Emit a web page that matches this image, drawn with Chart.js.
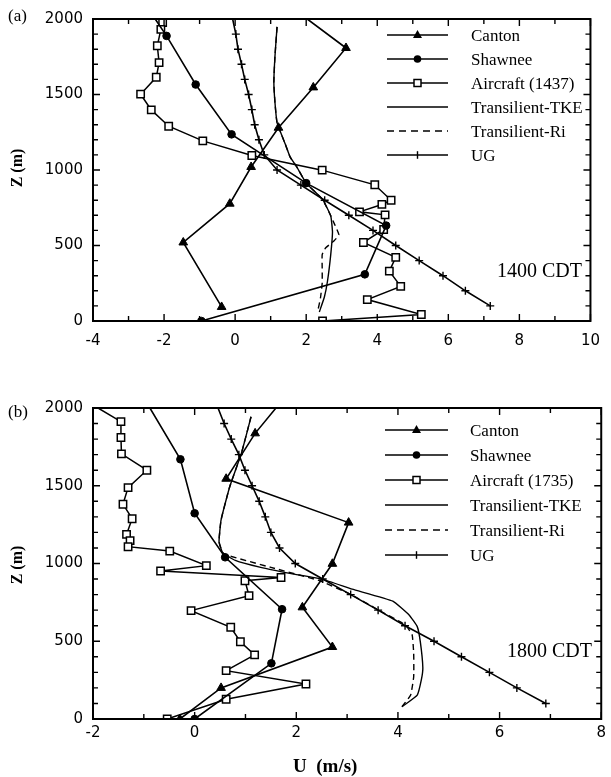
<!DOCTYPE html>
<html lang="en">
<head>
<meta charset="UTF-8" />
<title>Wind speed profiles</title>
<script src="https://cdn.jsdelivr.net/npm/chart.js"></script>
<style>
  body {
    margin: 0;
    background: #fff;
    width: 611px;
    height: 777px;
    position: relative;
    overflow: hidden;
    font-family: 'Liberation Serif', 'Times New Roman', serif;
    color: #000;
  }
  .panel { position: absolute; left: 0; }
  #panelA { top: 0; }
  #panelB { top: 388px; }
  .note {
    position: absolute;
    line-height: 1;
    white-space: pre;
    transform: translateY(-50%);
  }
  .tag { font-size: 17px; left: 8px; }
  .stamp { font-size: 20px; }
  .ztitle {
    position: absolute;
    font-size: 16px;
    font-weight: bold;
    line-height: 1;
    white-space: pre;
    transform: translate(-50%, -50%) rotate(-90deg);
  }
  .utitle { font-size: 19px; font-weight: bold; }
</style>
</head>
<body>

<div class="panel" id="panelA"><canvas id="chartA" width="611" height="388"></canvas></div>
<div class="panel" id="panelB"><canvas id="chartB" width="611" height="389"></canvas></div>

<div class="note tag" style="top:15px">(a)</div>
<div class="note tag" style="top:411px">(b)</div>
<div class="ztitle" style="left:17px; top:168px">Z (m)</div>
<div class="ztitle" style="left:17px; top:565px">Z (m)</div>
<div class="note utitle" style="left:293px; top:765px">U  (m/s)</div>
<div class="note stamp" style="left:497px; top:270px">1400 CDT</div>
<div class="note stamp" style="left:507px; top:650px">1800 CDT</div>

<script>
  // ---- 1400 CDT profiles (U in m/s, Z in m) ----
  const cantonA_U = [2.03, 3.12, 2.2, 1.22, 0.45, -0.15, -1.46, -0.38];
  const cantonA_Z = [2000, 1808, 1547, 1280, 1020, 777, 520, 93];

  const shawneeA_U = [-2.25, -1.93, -1.11, -0.1, 2.0, 4.25, 3.65, -0.95];
  const shawneeA_Z = [2000, 1888, 1566, 1236, 913, 632, 309, 0];

  const aircraftA_U = [-2.04, -2.09, -2.19, -2.14, -2.22, -2.66, -2.36, -1.87, -0.91, 0.47, 2.45, 3.93,
                       4.39, 4.13, 3.5, 4.22, 4.18, 3.61, 4.52, 4.34, 4.66, 3.72, 5.24, 2.46];
  const aircraftA_Z = [1976, 1931, 1823, 1711, 1614, 1502, 1398, 1290, 1193, 1096, 999, 902,
                       800, 772, 723, 703, 606, 520, 421, 330, 229, 142, 43, 0];

  const tkeA_U = [1.18, 1.12, 1.09, 1.12, 1.18, 1.41, 1.55, 1.73, 2.0, 2.46, 2.69, 2.74, 2.69, 2.6, 2.51, 2.37];
  const tkeA_Z = [1948, 1750, 1581, 1450, 1314, 1172, 1085, 1022, 913, 805, 697, 589, 438, 265, 157, 60];

  const riA_U = [1.18, 1.12, 1.09, 1.12, 1.18, 1.41, 1.55, 1.73, 2.0, 2.46, 2.69, 2.8, 2.92, 2.78, 2.55, 2.45, 2.45, 2.45, 2.4, 2.33];
  const riA_Z = [1948, 1750, 1581, 1450, 1314, 1172, 1085, 1022, 913, 805, 697, 640, 570, 530, 485, 440, 350, 250, 150, 71];

  const ugA_U = [7.18, 6.48, 5.85, 5.18, 4.52, 3.88, 3.2, 2.52, 1.85, 1.18,
                 0.82, 0.67, 0.55, 0.47, 0.38, 0.27, 0.18, 0.08, 0.02, -0.07];
  const ugA_Z = [100, 200, 300, 400, 500, 600, 700, 800, 900, 1000,
                 1100, 1200, 1300, 1400, 1500, 1600, 1700, 1800, 1900, 2000];

  // ---- 1800 CDT profiles ----
  const cantonB_U = [1.6, 1.19, 0.62, 3.03, 2.71, 2.12, 2.71, 0.52, -0.29];
  const cantonB_Z = [2000, 1837, 1545, 1263, 998, 718, 463, 200, 0];

  const shawneeB_U = [-0.88, -0.28, 0.0, 0.6, 1.72, 1.51, 0.0];
  const shawneeB_Z = [2000, 1670, 1323, 1040, 706, 358, 0];

  const aircraftB_U = [-1.9, -1.45, -1.45, -1.44, -0.94, -1.31, -1.41, -1.23, -1.34, -1.27, -1.31, -0.49, 0.23,
                       -0.67, 1.7, 0.99, 1.07, -0.07, 0.71, 0.9, 1.18, 0.62, 2.19, 0.62, -0.54];
  const aircraftB_Z = [2000, 1912, 1810, 1705, 1600, 1488, 1381, 1288, 1187, 1147, 1108, 1080, 986,
                       952, 910, 889, 793, 697, 590, 497, 412, 311, 225, 127, 0];

  const tkeB_U = [1.11, 0.92, 0.69, 0.52, 0.48, 0.55, 0.8, 1.3, 1.9, 2.52, 3.1, 3.9, 4.22, 4.38, 4.44, 4.49, 4.46, 4.38, 4.08];
  const tkeB_Z = [1944, 1709, 1494, 1280, 1140, 1070, 1020, 975, 935, 898, 835, 758, 669, 594, 497, 330, 251, 154, 79];

  const riB_U = [1.11, 0.92, 0.69, 0.52, 0.48, 0.55, 0.62, 1.5, 2.45, 3.08, 3.62, 4.15, 4.28, 4.31, 4.31, 4.25, 4.08];
  const riB_Z = [1944, 1709, 1494, 1280, 1140, 1070, 1055, 975, 890, 800, 700, 604, 540, 422, 272, 154, 79];

  const ugB_U = [6.91, 6.34, 5.8, 5.25, 4.71, 4.14, 3.61, 3.07, 2.52, 1.98,
                 1.67, 1.5, 1.39, 1.27, 1.13, 0.99, 0.87, 0.72, 0.58, 0.46];
  const ugB_Z = [100, 200, 300, 400, 500, 600, 700, 800, 900, 1000,
                 1100, 1200, 1300, 1400, 1500, 1600, 1700, 1800, 1900, 2000];

  const seriesNames = ['Canton', 'Shawnee', 'Aircraft', 'Transilient-TKE', 'Transilient-Ri', 'UG'];

  const pts = (us, zs) => us.map((u, i) => ({ x: u, y: zs[i] }));
  // profiles run off the top of the frame: no marker on the exit point
  const hideTop = r => ctx => (ctx.raw && ctx.raw.y >= 2000 ? 0 : r);

  function buildSets(d) {
    const base = { showLine: true, borderColor: '#000', pointBorderColor: '#000', tension: 0 };
    return [
      { ...base, label: 'Canton', data: pts(d.canton[0], d.canton[1]), borderWidth: 1.6,
        pointStyle: 'triangle', pointRadius: hideTop(5), pointBackgroundColor: '#000', pointBorderWidth: 1 },
      { ...base, label: 'Shawnee', data: pts(d.shawnee[0], d.shawnee[1]), borderWidth: 1.6,
        pointStyle: 'circle', pointRadius: hideTop(3.8), pointBackgroundColor: '#000', pointBorderWidth: 1 },
      { ...base, label: 'Aircraft', data: pts(d.aircraft[0], d.aircraft[1]), borderWidth: 1.5,
        pointStyle: 'rect', pointRadius: hideTop(5.2), pointBackgroundColor: '#fff', pointBorderWidth: 1.5 },
      { ...base, label: 'Transilient-TKE', data: pts(d.tke[0], d.tke[1]), borderWidth: 1.4,
        pointRadius: 0, tension: 0.12 },
      { ...base, label: 'Transilient-Ri', data: pts(d.ri[0], d.ri[1]), borderWidth: 1.4, borderDash: [6, 4],
        pointRadius: 0, tension: 0.12 },
      { ...base, label: 'UG', data: pts(d.ug[0], d.ug[1]), borderWidth: 1.6,
        pointStyle: 'cross', pointRadius: hideTop(4), pointBorderWidth: 1.4 }
    ];
  }

  // frame on all four sides with inward-pointing ticks
  const frameTicks = {
    id: 'frameTicks',
    afterDraw(chart, args, opts) {
      const { ctx, chartArea: a, scales: { x, y } } = chart;
      ctx.save();
      ctx.strokeStyle = '#000';
      ctx.lineWidth = 2;
      ctx.strokeRect(a.left, a.top, a.right - a.left, a.bottom - a.top);
      ctx.lineWidth = 1.4;
      ctx.beginPath();
      for (let v = x.min; v <= x.max + 1e-6; v += opts.xMinor) {
        const px = x.getPixelForValue(v);
        const len = Math.abs(v % opts.xMajor) < 1e-6 ? 7 : 5;
        ctx.moveTo(px, a.bottom); ctx.lineTo(px, a.bottom - len);
        ctx.moveTo(px, a.top); ctx.lineTo(px, a.top + len);
      }
      for (let v = y.min; v <= y.max + 1e-6; v += opts.yMinor) {
        const py = y.getPixelForValue(v);
        const len = Math.abs(v % opts.yMajor) < 1e-6 ? 7 : 5;
        ctx.moveTo(a.left, py); ctx.lineTo(a.left + len, py);
        ctx.moveTo(a.right, py); ctx.lineTo(a.right - len, py);
      }
      ctx.stroke();
      ctx.restore();
    }
  };

  // legend inside the plot, line sample with its marker
  const sampleLegend = {
    id: 'sampleLegend',
    afterDraw(chart, args, opts) {
      const ctx = chart.ctx;
      ctx.save();
      ctx.strokeStyle = '#000';
      ctx.fillStyle = '#000';
      ctx.font = '17px "Liberation Serif", serif';
      ctx.textBaseline = 'middle';
      opts.labels.forEach((txt, i) => {
        const y = opts.y0 + i * opts.dy;
        const mid = (opts.x0 + opts.x1) / 2;
        ctx.lineWidth = 1.6;
        ctx.setLineDash(i === 4 ? [7, 5] : []);
        ctx.beginPath();
        ctx.moveTo(opts.x0, y);
        ctx.lineTo(opts.x1, y);
        ctx.stroke();
        ctx.setLineDash([]);
        ctx.beginPath();
        if (i === 0) {
          ctx.moveTo(mid, y - 5); ctx.lineTo(mid + 4.5, y + 3); ctx.lineTo(mid - 4.5, y + 3);
          ctx.closePath(); ctx.fill();
        } else if (i === 1) {
          ctx.arc(mid, y, 3.8, 0, Math.PI * 2); ctx.fill();
        } else if (i === 2) {
          ctx.fillStyle = '#fff';
          ctx.fillRect(mid - 3.5, y - 3.5, 7, 7);
          ctx.lineWidth = 1.5;
          ctx.strokeRect(mid - 3.5, y - 3.5, 7, 7);
          ctx.fillStyle = '#000';
        } else if (i === 5) {
          ctx.lineWidth = 1.4;
          ctx.moveTo(mid, y - 3.8); ctx.lineTo(mid, y + 3.8); ctx.stroke();
        }
        ctx.fillText(txt, opts.tx, y + 2);
      });
      ctx.restore();
    }
  };

  function makeChart(id, sets, cfg) {
    const tickFont = { family: '"DejaVu Sans", sans-serif', size: 15 };
    return new Chart(document.getElementById(id), {
      type: 'scatter',
      data: { datasets: sets },
      options: {
        responsive: false,
        animation: false,
        layout: { padding: { top: cfg.top, right: 8, left: 0, bottom: 0 } },
        scales: {
          x: {
            type: 'linear', min: cfg.xMin, max: cfg.xMax,
            grid: { display: false, drawTicks: false },
            border: { display: false },
            ticks: { stepSize: 2, font: tickFont, color: '#000', padding: cfg.xPad, callback: v => String(v) },
            afterFit: s => { s.height = cfg.xHeight; }
          },
          y: {
            type: 'linear', min: 0, max: 2000,
            grid: { display: false, drawTicks: false },
            border: { display: false },
            ticks: { stepSize: 500, font: tickFont, color: '#000', padding: 10, callback: v => String(v) },
            afterFit: s => { s.width = 93; }
          }
        },
        plugins: {
          legend: { display: false },
          tooltip: { enabled: false },
          frameTicks: { xMinor: 1, xMajor: 2, yMinor: 100, yMajor: 500 },
          sampleLegend: cfg.legend
        }
      },
      plugins: [frameTicks, sampleLegend]
    });
  }

  makeChart('chartA', buildSets({
    canton: [cantonA_U, cantonA_Z], shawnee: [shawneeA_U, shawneeA_Z],
    aircraft: [aircraftA_U, aircraftA_Z], tke: [tkeA_U, tkeA_Z],
    ri: [riA_U, riA_Z], ug: [ugA_U, ugA_Z]
  }), {
    xMin: -4, xMax: 10, top: 12, xHeight: 67, xPad: 11,
    legend: {
      labels: seriesNames.map(n => n === 'Aircraft' ? 'Aircraft (1437)' : n),
      x0: 387, x1: 448, tx: 471, y0: 35, dy: 24
    }
  });

  makeChart('chartB', buildSets({
    canton: [cantonB_U, cantonB_Z], shawnee: [shawneeB_U, shawneeB_Z],
    aircraft: [aircraftB_U, aircraftB_Z], tke: [tkeB_U, tkeB_Z],
    ri: [riB_U, riB_Z], ug: [ugB_U, ugB_Z]
  }), {
    xMin: -2, xMax: 8, top: 20, xHeight: 58, xPad: 5,
    legend: {
      labels: seriesNames.map(n => n === 'Aircraft' ? 'Aircraft (1735)' : n),
      x0: 385, x1: 448, tx: 470, y0: 42, dy: 25
    }
  });
</script>
</body>
</html>
